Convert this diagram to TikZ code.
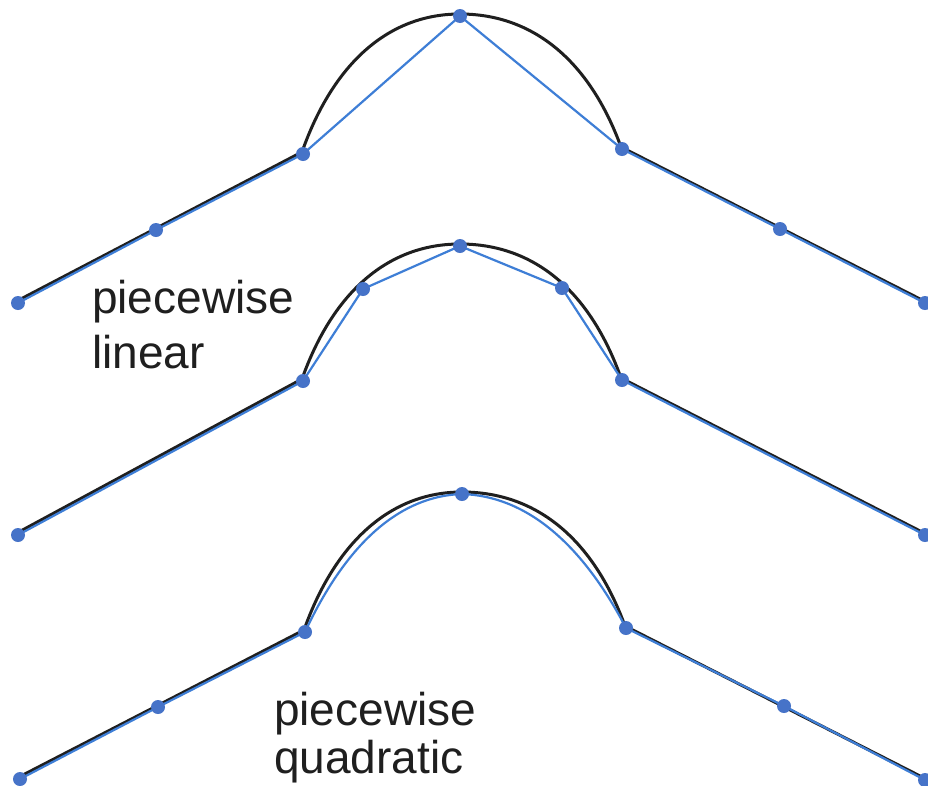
\documentclass[tikz,border=0pt]{standalone}
\usepackage{fontspec}
\setmainfont{Liberation Sans}
\begin{document}
\begin{tikzpicture}[x=1pt,y=-1pt,
  curveline/.style={draw=black!88, line width=3pt, line join=round, line cap=round},
  approxline/.style={draw=approxblue, line width=2.2pt, line join=round},
  knot/.style={circle, fill=knotblue, inner sep=0pt, minimum size=14pt},
  caption/.style={font=\fontsize{46}{55}\selectfont, text=black!88, inner sep=0pt, anchor=base west}]
\definecolor{approxblue}{RGB}{62,126,214}
\definecolor{knotblue}{RGB}{70,115,200}
\useasboundingbox (0,0) rectangle (928,785);
\fill[white] (0,0) rectangle (928,785);

% ---------- top: piecewise linear, one interior knot ----------
\coordinate (aL) at (18,303);
\coordinate (aP) at (156,230);
\coordinate (aK) at (303,154);
\coordinate (aA) at (460,16);
\coordinate (aJ) at (622,149);
\coordinate (aQ) at (780,229);
\coordinate (aR) at (925,303);
\draw[curveline] (17,301) -- (302,152) .. controls (333,64) and (388,14) .. (460,14)
  .. controls (534,14) and (590,62) .. (621,147) -- (924,301);
\draw[approxline] (aL) -- (aP) -- (aK) -- (aA) -- (aJ) -- (aQ) -- (aR);
\foreach \p in {aL,aP,aK,aA,aJ,aQ,aR} \node[knot] (k\p) at (\p) {};

% ---------- middle: piecewise linear, refined ----------
\coordinate (bL) at (18,535);
\coordinate (bK) at (303,381);
\coordinate (bM) at (363,289);
\coordinate (bA) at (460,246);
\coordinate (bN) at (562,288);
\coordinate (bJ) at (622,380);
\coordinate (bR) at (925,535);
\draw[curveline] (17,533) -- (302,379) .. controls (333,292) and (388,244) .. (460,244)
  .. controls (534,244) and (590,291) .. (621,378) -- (924,533);
\draw[approxline] (bL) -- (bK) -- (bM) -- (bA) -- (bN) -- (bJ) -- (bR);
\foreach \p in {bL,bK,bM,bA,bN,bJ,bR} \node[knot] (k\p) at (\p) {};

% ---------- bottom: piecewise quadratic ----------
\coordinate (cL) at (20,779);
\coordinate (cP) at (158,707);
\coordinate (cK) at (305,632);
\coordinate (cA) at (462,494);
\coordinate (cJ) at (626,628);
\coordinate (cQ) at (784,706);
\coordinate (cR) at (925,780);
\draw[curveline] (19,777) -- (304,630) .. controls (335,543) and (390,492) .. (462,492)
  .. controls (538,492) and (594,541) .. (625,626) -- (924,778);
\draw[approxline] (cL) -- (cP) -- (cK) .. controls (348,540) and (402,496) .. (cA)
  .. controls (524,496) and (580,540) .. (cJ) -- (cQ) -- (cR);
\foreach \p in {cL,cP,cK,cA,cJ,cQ,cR} \node[knot] (k\p) at (\p) {};

% ---------- captions ----------
\node[caption] (lin1) at (92,313) {piecewise};
\node[caption] (lin2) at (92,368) {linear};
\node[caption] (quad1) at (274,725) {piecewise};
\node[caption] (quad2) at (274,773) {quadratic};
\end{tikzpicture}
\end{document}
